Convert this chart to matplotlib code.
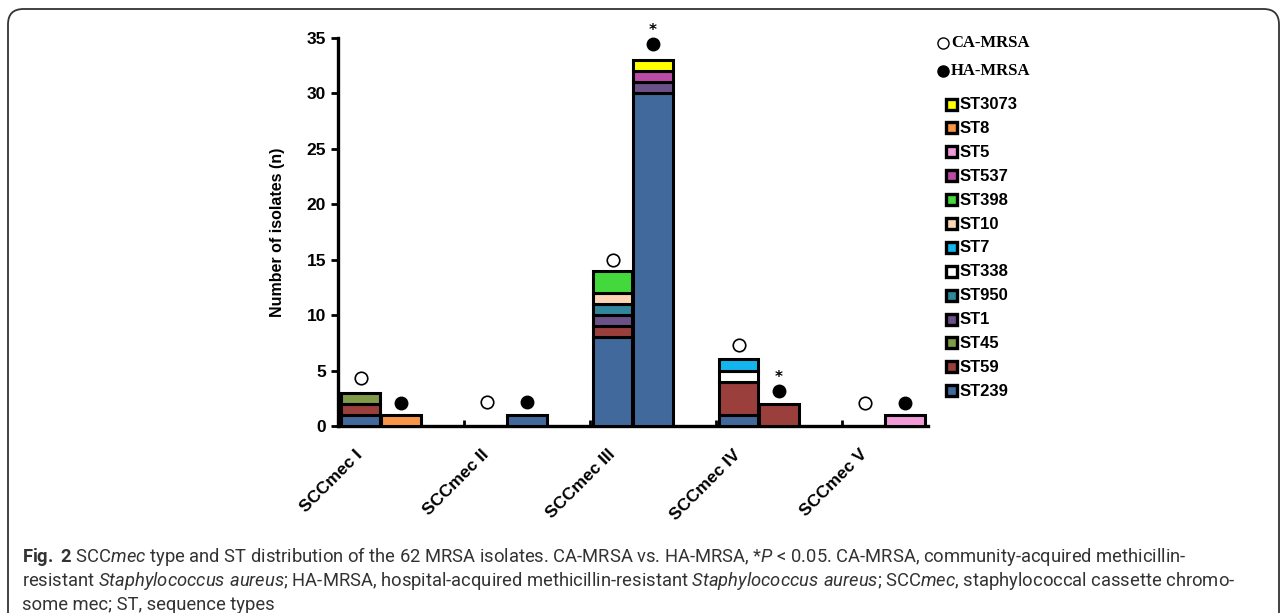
import matplotlib
matplotlib.use('Agg')
import matplotlib.pyplot as plt
from matplotlib.lines import Line2D
from matplotlib.patches import FancyBboxPatch, Rectangle

# categories
categories = ['SCCmec I', 'SCCmec II', 'SCCmec III', 'SCCmec IV', 'SCCmec V']

# legend order (top to bottom)
st_legend = ['ST3073', 'ST8', 'ST5', 'ST537', 'ST398', 'ST10', 'ST7',
             'ST338', 'ST950', 'ST1', 'ST45', 'ST59', 'ST239']
st_colors = ['#FFFF00', '#F79646', '#F09AD8', '#BC4BA8', '#43D93C', '#FCD5B5',
             '#12B5EE', '#FFFFFF', '#31869C', '#6A5288', '#7F9A48', '#9B3F3C',
             '#41699C']

# CA-MRSA counts per ST
ca_st239 = [1, 0, 8, 1, 0]
ca_st59 = [1, 0, 1, 3, 0]
ca_st45 = [1, 0, 0, 0, 0]
ca_st1 = [0, 0, 1, 0, 0]
ca_st950 = [0, 0, 1, 0, 0]
ca_st338 = [0, 0, 0, 1, 0]
ca_st7 = [0, 0, 0, 1, 0]
ca_st10 = [0, 0, 1, 0, 0]
ca_st398 = [0, 0, 2, 0, 0]

# HA-MRSA counts per ST
ha_st239 = [0, 1, 30, 0, 0]
ha_st59 = [0, 0, 0, 2, 0]
ha_st1 = [0, 0, 1, 0, 0]
ha_st537 = [0, 0, 1, 0, 0]
ha_st5 = [0, 0, 0, 0, 1]
ha_st8 = [1, 0, 0, 0, 0]
ha_st3073 = [0, 0, 1, 0, 0]

# marker heights above the bars
ca_marker = [4.3, 2.2, 15.0, 7.3, 2.1]
ha_marker = [2.1, 2.2, 34.5, 3.2, 2.1]
ha_signif = [False, False, True, True, False]

zero = [0, 0, 0, 0, 0]
ca = {'ST239': ca_st239, 'ST59': ca_st59, 'ST45': ca_st45, 'ST1': ca_st1,
      'ST950': ca_st950, 'ST338': ca_st338, 'ST7': ca_st7, 'ST10': ca_st10,
      'ST398': ca_st398}
ha = {'ST239': ha_st239, 'ST59': ha_st59, 'ST1': ha_st1, 'ST537': ha_st537,
      'ST5': ha_st5, 'ST8': ha_st8, 'ST3073': ha_st3073}
color_of = dict(zip(st_legend, st_colors))
stack_order = st_legend[::-1]

W, H = 1284, 613
fig = plt.figure(figsize=(W / 100, H / 100), dpi=100)


def px(x, y):
    return x / W, 1 - y / H


ax = fig.add_axes([338 / W, (H - 426) / H, 630 / W, 388 / H])

bw = 0.31
off_ca, off_ha = 0.18, 0.50
lw = 2.2
for data, off in ((ca, off_ca), (ha, off_ha)):
    bottoms = [0] * len(categories)
    for st in stack_order:
        vals = data.get(st, zero)
        for i, v in enumerate(vals):
            if v > 0:
                ax.bar(i + off, v, bw, bottom=bottoms[i], color=color_of[st],
                       edgecolor='black', linewidth=lw, zorder=3)
                bottoms[i] += v

xs = range(len(categories))
ax.plot([i + off_ca for i in xs], ca_marker, 'o', ms=9, mfc='white',
        mec='black', mew=1.2, ls='none', clip_on=False, zorder=4)
ax.plot([i + off_ha for i in xs], ha_marker, 'o', ms=9, mfc='black',
        mec='black', ls='none', clip_on=False, zorder=4)
for i, s in enumerate(ha_signif):
    if s:
        ax.annotate('*', (i + off_ha, ha_marker[i]), xytext=(0, 4),
                    textcoords='offset points', ha='center', va='bottom',
                    fontsize=11, fontweight='bold', annotation_clip=False)

ax.set_xlim(0, len(categories))
ax.set_ylim(0, 35)
ax.set_yticks(range(0, 36, 5))
ax.set_xticks(range(0, len(categories)))
ax.set_xticklabels([])
ax.tick_params(axis='x', which='major', direction='in', length=4, width=2)
ax.set_xticks([i + 0.22 for i in xs], minor=True)
ax.set_xticklabels(categories, minor=True, rotation=45, ha='right', va='top',
                   fontsize=12.5, fontweight='bold', family='Liberation Sans')
ax.tick_params(axis='x', which='minor', length=0, pad=15)
ax.tick_params(axis='y', length=5, width=2)
for lab in ax.get_yticklabels():
    lab.set_fontsize(12.5)
    lab.set_fontweight('bold')
    lab.set_family('Liberation Sans')
for s in ['top', 'right']:
    ax.spines[s].set_visible(False)
for s in ['left', 'bottom']:
    ax.spines[s].set_linewidth(2.4)
ax.spines['bottom'].set_bounds(0, 4.68)
ax.set_ylabel('Number of isolates (n)', fontsize=11.5, fontweight='bold',
              family='Liberation Sans')
ax.yaxis.set_label_coords(-0.084, 0.5)

# legend, drawn by hand
for (label, face), yy in zip((('CA-MRSA', 'white'), ('HA-MRSA', 'black')), (43, 71)):
    fig.add_artist(Line2D([px(943, yy)[0]], [px(943, yy)[1]], marker='o', ms=8,
                          mfc=face, mec='black', mew=1.0, ls='none',
                          transform=fig.transFigure))
    fig.text(*px(951, yy), label, fontsize=12, fontweight='bold',
             family='Liberation Serif', va='center', ha='left')
for k, (st, c) in enumerate(zip(st_legend, st_colors)):
    yy = 104 + 23.9 * k
    x0, y0 = px(946, yy + 5.5)
    fig.add_artist(Rectangle((x0, y0), 11 / W, 11 / H, facecolor=c,
                             edgecolor='black', linewidth=2.4,
                             transform=fig.transFigure))
    fig.text(*px(960, yy + 0.5), st, fontsize=12, fontweight='bold',
             family='Liberation Sans', va='center', ha='left')

# frame
fig.add_artist(FancyBboxPatch((8 / W, -0.05), (1279 - 8) / W, 1.05 - 9 / H,
                              boxstyle='round,pad=0,rounding_size=0.012',
                              facecolor='none', edgecolor='#333333',
                              linewidth=1.3, transform=fig.transFigure,
                              mutation_aspect=W / H))

# caption
plt.rcParams['mathtext.fontset'] = 'custom'
plt.rcParams['mathtext.rm'] = 'Roboto'
plt.rcParams['mathtext.it'] = 'Roboto:italic'
plt.rcParams['mathtext.bf'] = 'Roboto:bold'
cap = [
    r'$\mathbf{Fig.}$ $\mathbf{2}$ SCC$\mathit{mec}$ type and ST distribution of the 62 MRSA '
    r'isolates. CA-MRSA vs. HA-MRSA, *$\mathit{P}$ < 0.05. CA-MRSA, community-acquired methicillin-',
    r'resistant $\mathit{Staphylococcus\ aureus}$; HA-MRSA, hospital-acquired '
    r'methicillin-resistant $\mathit{Staphylococcus\ aureus}$; SCC$\mathit{mec}$, '
    r'staphylococcal cassette chromo-',
    'some mec; ST, sequence types',
]
for line, yy in zip(cap, (556, 581, 605)):
    fig.text(*px(22, yy), line, fontsize=13.2, family='Roboto', color='#333333',
             va='center', ha='left')

fig.savefig('out.png', dpi=100)
